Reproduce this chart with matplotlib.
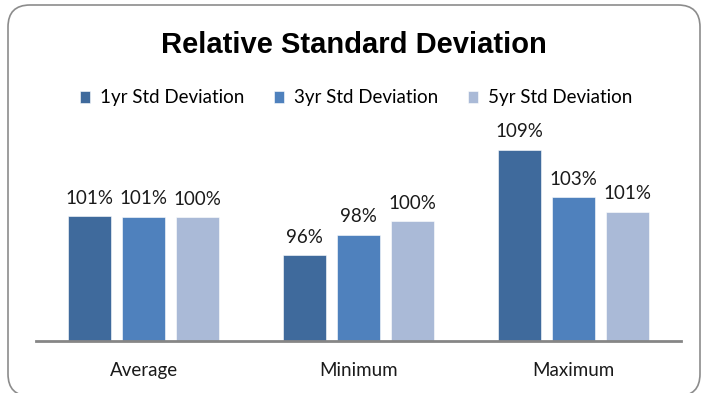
import numpy as np
import matplotlib
matplotlib.use("Agg")
import matplotlib.pyplot as plt
from matplotlib.patches import FancyBboxPatch

# ---------------------------------------------------------
# data
# ---------------------------------------------------------
categories = ["Average", "Minimum", "Maximum"]
series_names = ["1yr Std Deviation", "3yr Std Deviation", "5yr Std Deviation"]
std_1yr = [1.006, 0.957, 1.0885]
std_3yr = [1.0055, 0.9825, 1.0296]
std_5yr = [1.0045, 0.9995, 1.0112]

colors = ["#3F6A9C", "#4F81BD", "#AABAD7"]
FONT = ["Lato", "DejaVu Sans"]
FS = 13.5

# ---------------------------------------------------------
# figure
# ---------------------------------------------------------
W, H = 702, 393
fig = plt.figure(figsize=(W / 100, H / 100), dpi=100)

# rounded frame around the chart (pixel coords)
frame = FancyBboxPatch((8, -3), 692, 391,
                       boxstyle="round,pad=0,rounding_size=22",
                       transform=None, facecolor="white",
                       edgecolor="#8C8C8C", linewidth=1.2, zorder=0)
fig.add_artist(frame)

ax = fig.add_axes([36 / W, (H - 341.3) / H, (681 - 36) / W, (341.3 - 120) / H])
ax.set_facecolor("none")

x = np.arange(len(categories))
width = 0.2
step = 0.251
bars = []
for i, (vals, name) in enumerate(zip([std_1yr, std_3yr, std_5yr], series_names)):
    b = ax.bar(x + (i - 1) * step, vals, width, color=colors[i], label=name,
               edgecolor="white", linewidth=0.4, zorder=2)
    bars.append(b)
    for rect, v in zip(b, vals):
        ax.text(rect.get_x() + rect.get_width() / 2, v + 0.012, f"{v:.0%}",
                ha="center", va="bottom", fontsize=FS, family=FONT, color="#1a1a1a")

ax.set_xlim(-0.5, 2.5)
ax.set_ylim(0.85, 0.85 + (341.3 - 120) / 802)

for s in ["top", "left", "right"]:
    ax.spines[s].set_visible(False)
ax.spines["bottom"].set_color("#868686")
ax.spines["bottom"].set_linewidth(2)
ax.set_yticks([])
ax.set_xticks(x)
ax.set_xticklabels(categories, fontsize=FS, family=FONT, color="#1a1a1a")
ax.tick_params(axis="x", length=0, pad=15)

# title
fig.text(354 / W, 1 - 45 / H, "Relative Standard Deviation",
         ha="center", va="center", fontsize=21, fontweight="bold",
         family=["Liberation Sans Narrow", "Liberation Sans", "DejaVu Sans"])

# legend
leg = fig.legend(handles=bars, labels=series_names, loc="center",
                 bbox_to_anchor=(356 / W, 1 - 98 / H), ncol=3, frameon=False,
                 handlelength=0.55, handleheight=0.55, handletextpad=0.5,
                 columnspacing=1.6, prop={"family": FONT, "size": FS})

fig.savefig("out.png", dpi=100)
